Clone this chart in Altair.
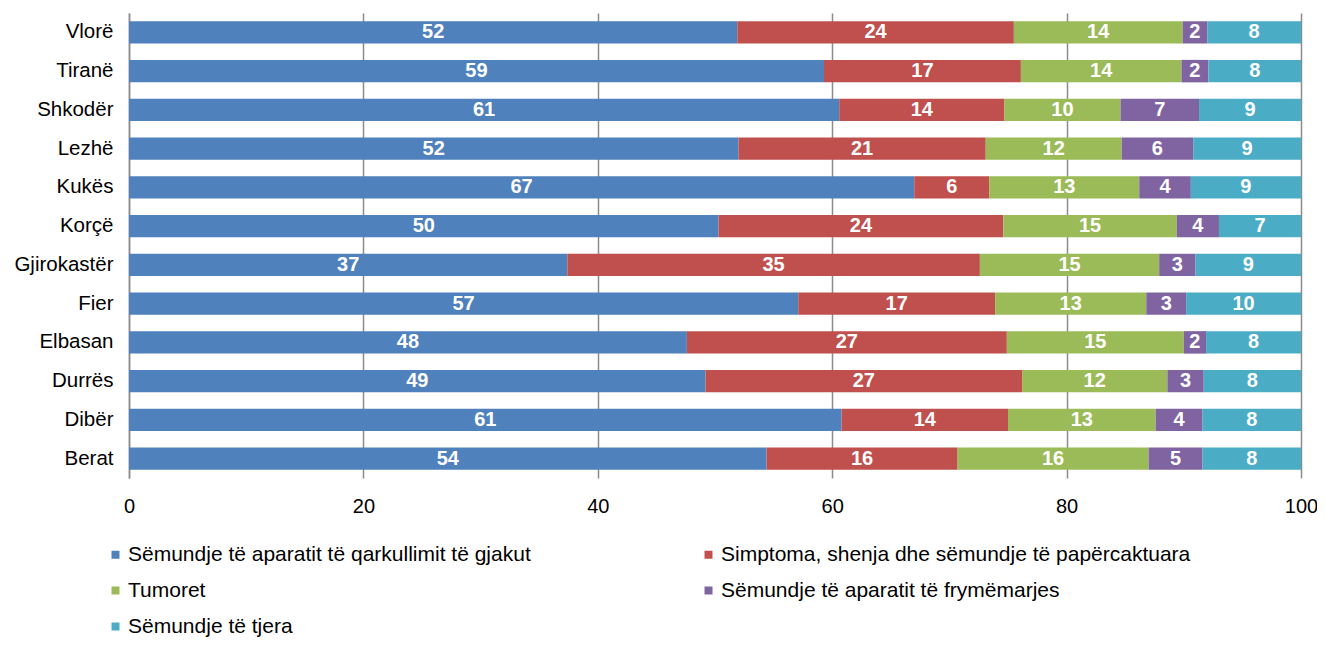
import altair as alt
import pandas as pd

cities = ["Vlorë", "Tiranë", "Shkodër", "Lezhë", "Kukës", "Korçë",
          "Gjirokastër", "Fier", "Elbasan", "Durrës", "Dibër", "Berat"]

series = ["Sëmundje të aparatit të qarkullimit të gjakut",
          "Simptoma, shenja dhe sëmundje të papërcaktuara",
          "Tumoret",
          "Sëmundje të aparatit të frymëmarjes",
          "Sëmundje të tjera"]

colors = ["#4F81BD", "#C0504D", "#9BBB59", "#8064A2", "#4BACC6"]

qarkullimi = [51.9, 59.3, 60.6, 52.0, 67.0, 50.3, 37.4, 57.1, 47.6, 49.2, 60.8, 54.4]
simptoma   = [23.6, 16.8, 14.1, 21.1, 6.4, 24.3, 35.2, 16.8, 27.3, 27.0, 14.2, 16.3]
tumoret    = [14.4, 13.7, 9.9, 11.6, 12.8, 14.8, 15.3, 12.9, 15.1, 12.4, 12.6, 16.3]
frymemarja = [2.1, 2.3, 6.7, 6.1, 4.4, 3.6, 3.1, 3.4, 1.9, 3.1, 4.0, 4.6]
tjera      = [8.0, 7.9, 8.7, 9.2, 9.4, 7.0, 9.0, 9.8, 8.1, 8.3, 8.4, 8.4]

x_ticks = [0, 20, 40, 60, 80, 100]

rows = []
for si, (name, vals) in enumerate(zip(series, [qarkullimi, simptoma, tumoret, frymemarja, tjera])):
    for c, v in zip(cities, vals):
        rows.append({"city": c, "series": name, "order": si, "value": v})
df = pd.DataFrame(rows)

FONT = "Liberation Sans"

base = alt.Chart(df).transform_stack(
    stack="value", groupby=["city"], as_=["x0", "x1"],
    sort=[alt.SortField("order", order="ascending")]
).transform_calculate(
    mid="(datum.x0 + datum.x1) / 2",
    label="format(datum.value, '.0f')"
)

y_enc = alt.Y("city:N", sort=cities, title=None,
              scale=alt.Scale(paddingInner=0.42, paddingOuter=0.21),
              axis=alt.Axis(labelFont=FONT, labelFontSize=20.5, labelColor="#000000",
                            labelPadding=16, ticks=False, domain=True,
                            domainColor="#8c8c8c", domainWidth=1.5))

bars = base.mark_bar().encode(
    x=alt.X("x0:Q", title=None,
            scale=alt.Scale(domain=[0, 100], nice=False),
            axis=alt.Axis(values=x_ticks, labelFont=FONT, labelFontSize=20,
                          labelColor="#000000", labelPadding=18, ticks=False,
                          labelFlush=False,
                          domain=False, grid=True, gridColor="#8c8c8c",
                          gridWidth=1.5)),
    x2="x1:Q",
    y=y_enc,
    color=alt.Color("series:N", sort=series,
                    scale=alt.Scale(domain=series, range=colors),
                    legend=alt.Legend(title=None, orient="none", legendX=-24, legendY=531,
                                      direction="horizontal",
                                      columns=2, columnPadding=167, rowPadding=14,
                                      symbolType="square", symbolSize=64,
                                      symbolStrokeWidth=0, labelFont=FONT,
                                      labelFontSize=21, labelColor="#000000",
                                      labelOffset=2, labelLimit=600, padding=0)),
    order=alt.Order("order:Q")
)

texts = base.mark_text(font=FONT, fontSize=20, fontWeight="bold",
                       color="white", baseline="middle", align="center").encode(
    x="mid:Q",
    y=alt.Y("city:N", sort=cities),
    text="label:N"
)

chart = alt.layer(bars, texts).properties(
    width=1172, height=465,
    autosize=alt.AutoSizeParams(type="none"),
    padding={"left": 121, "top": 5, "right": 16, "bottom": 160}
).configure_view(stroke=None)

chart.save("out.html", embed_options={"renderer": "svg", "actions": False})
